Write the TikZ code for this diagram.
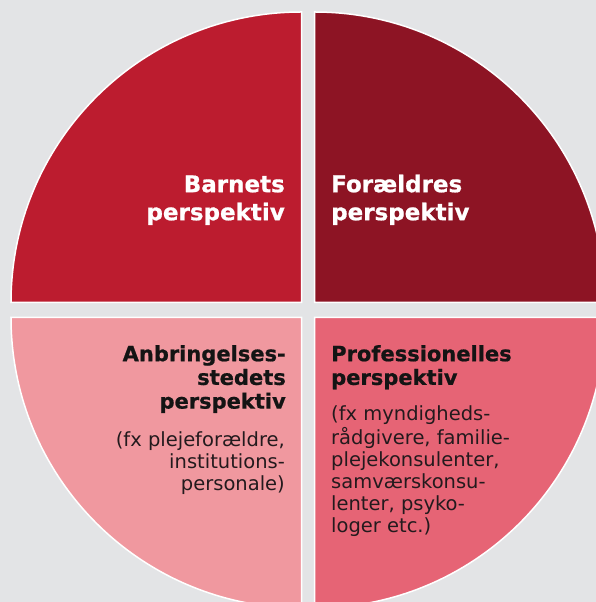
\documentclass[tikz,border=0pt]{standalone}
\usepackage{fontspec}
\setmainfont{DejaVu Sans}[BoldFeatures={FakeBold=0.8}]

\definecolor{bggray}{HTML}{E3E4E6}
\definecolor{barnred}{HTML}{BC1C2F}
\definecolor{foraeldred}{HTML}{8D1424}
\definecolor{anbrpink}{HTML}{F0989F}
\definecolor{profpink}{HTML}{E66475}
\definecolor{notegray}{HTML}{231A1D}

\begin{document}
\begin{tikzpicture}[x=1pt, y=1pt,
    quarter/.style={draw=white, line width=1.5pt},
    bigtitle/.style={inner sep=0pt, text=white, font=\fontsize{23}{28}\selectfont\bfseries},
    smalltitle/.style={inner sep=0pt, text=black!92, font=\fontsize{21}{23.7}\selectfont\bfseries},
    note/.style={inner sep=0pt, text=notegray, font=\fontsize{19.5}{22}\selectfont}]
    \fill [bggray] (0,0) rectangle (596,602);
    \useasboundingbox (0,0) rectangle (596,602);
    \clip (0,0) rectangle (596,602);
    \coordinate (c) at (308,292);

    % Quarters
    \filldraw [quarter, fill=barnred] ([shift={(-6.5,7.5)}]c) -- ++(-290.5,0) arc [start angle=180, end angle=90, radius=290.5] -- cycle;
    \filldraw [quarter, fill=foraeldred] ([shift={(6.5,7.5)}]c) -- ++(0,290.5) arc [start angle=90, end angle=0, radius=290.5] -- cycle;
    \filldraw [quarter, fill=anbrpink] ([shift={(-6.5,-7.5)}]c) -- ++(0,-290.5) arc [start angle=270, end angle=180, radius=290.5] -- cycle;
    \filldraw [quarter, fill=profpink] ([shift={(6.5,-7.5)}]c) -- ++(290.5,0) arc [start angle=0, end angle=-90, radius=290.5] -- cycle;

    % Labels
    \node (barnets) [bigtitle, align=right, anchor=north east] at (285,429.6) {\strut Barnets\\perspektiv};
    \node (foraeldres) [bigtitle, align=left, anchor=north west] at (331,429.6) {\strut Forældres\\perspektiv};
    \node (anbr) [smalltitle, align=right, anchor=north east] at (286,257.6) {\strut Anbringelses-\\stedets\\perspektiv};
    \node (anbrnote) [note, align=right, anchor=north east] at (285,171.4) {\strut (fx plejeforældre,\\institutions-\\personale)};
    \node (prof) [smalltitle, align=left, anchor=north west] at (331,257.6) {\strut Professionelles\\perspektiv};
    \node (profnote) [note, align=left, anchor=north west] at (331,197.4) {\strut (fx myndigheds-\\rådgivere, familie-\\plejekonsulenter,\\samværskonsu-\\lenter, psyko-\\loger etc.)};
\end{tikzpicture}
\end{document}
